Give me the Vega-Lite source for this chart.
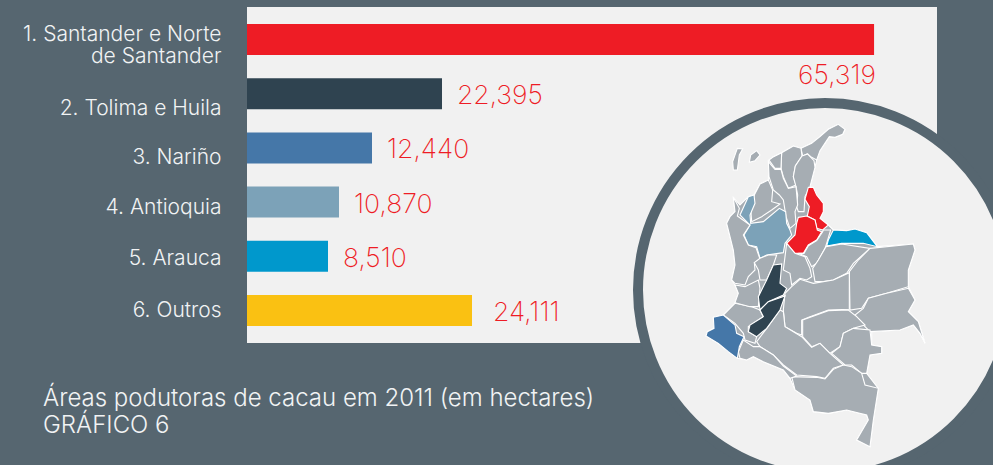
{
"$schema":"https://vega.github.io/schema/vega-lite/v6.json",
"width":690,"height":336,
"autosize":{"type":"none"},
"padding":{"left":247,"top":7,"right":56,"bottom":122},
"background":"#566670",
"view":{"fill":"#f1f1f1","stroke":null},
"title":{"text":["Áreas podutoras de cacau em 2011 (em hectares)","GRÁFICO 6"],"orient":"bottom","anchor":"start","frame":"group","dx":-204,"offset":-110,"font":"Inter","fontSize":24,"fontWeight":300,"color":"#f1f3f4","lineHeight":27},
"datasets":{"bars":[
{"region":"1. Santander e Norte de Santander","bar":65319,"label":"65,319"},
{"region":"2. Tolima e Huila","bar":20313,"label":"22,395"},
{"region":"3. Nariño","bar":13021,"label":"12,440"},
{"region":"4. Antioquia","bar":9583,"label":"10,870"},
{"region":"5. Arauca","bar":8438,"label":"8,510"},
{"region":"6. Outros","bar":23438,"label":"24,111"}]},
"layer":[
{"data":{"name":"bars"},"mark":{"type":"bar","cornerRadius":0},
"encoding":{
"y":{"field":"region","type":"nominal","sort":null,"title":null,"scale":{"range":[17,319],"paddingInner":0.428,"paddingOuter":0},
"axis":{"domain":false,"ticks":false,"labelPadding":26,"labelFont":"Inter","labelFontSize":21,"labelFontWeight":300,"labelColor":"#f1f3f4","labelLimit":240,"labelLineHeight":22,
"labelExpr":"datum.index==0?['1. Santander e Norte','de Santander']:datum.label",
"labelOffset":{"expr":"datum.index==0?-5:datum.index<0.3?15:datum.index<0.5?10:datum.index<0.7?6:datum.index<0.9?3:1"}}},
"x":{"field":"bar","type":"quantitative","axis":null,"scale":{"domain":[0,71875],"nice":false}},
"color":{"field":"region","type":"nominal","legend":null,"scale":{"domain":["1. Santander e Norte de Santander","2. Tolima e Huila","3. Nariño","4. Antioquia","5. Arauca","6. Outros","Demais"],"range":["#ee1c25","#2f4350","#4577a8","#7ca2b8","#0098cc","#fac112","#a6adb3"]}}}},
{"data":{"values":[{"lon":615,"lat":630}]},"mark":{"type":"circle","clip":false,"fill":"#f1f1f1","stroke":"#566670","strokeWidth":10,"size":139876,"opacity":1},
"projection":{"type":"identity","scale":0.33333,"translate":[373,73]},
"encoding":{"longitude":{"field":"lon","type":"quantitative"},"latitude":{"field":"lat","type":"quantitative"}}},
{"data":{"values":[
{"type":"Feature","properties":{"region":"Demais"},"geometry":{"type":"Polygon","coordinates":[[[655,133],[675,148],[668,163],[645,172],[628,170],[618,185],[600,212],[590,240],[585,262],[570,320],[590,345],[610,370],[610,395],[600,415],[625,435],[640,450],[680,452],[705,447],[740,458],[772,500],[880,492],[885,510],[865,570],[865,620],[885,660],[865,695],[895,725],[915,790],[900,760],[880,735],[840,750],[755,755],[755,795],[785,800],[785,820],[750,825],[740,880],[775,925],[760,1020],[750,1100],[710,1080],[745,1020],[740,1005],[680,990],[625,1000],[580,995],[570,960],[525,930],[510,895],[490,870],[430,845],[400,830],[380,840],[352,835],[325,815],[295,790],[258,768],[262,755],[282,745],[280,712],[310,705],[345,670],[355,640],[345,615],[335,600],[345,555],[340,510],[330,470],[320,430],[330,410],[345,395],[340,352],[360,375],[385,350],[402,345],[420,312],[445,300],[447,240],[458,232],[485,218],[520,198],[543,205],[575,190],[600,170],[625,148],[655,133]]]}},
{"type":"Feature","properties":{"region":"Demais"},"geometry":{"type":"Polygon","coordinates":[[[352,205],[368,207],[358,225],[352,270],[340,270],[338,245],[352,205]]]}},
{"type":"Feature","properties":{"region":"Demais"},"geometry":{"type":"Polygon","coordinates":[[[410,212],[420,225],[405,242],[388,247],[392,225],[410,212]]]}},
{"type":"Feature","properties":{"region":"Demais"},"geometry":{"type":"Polygon","coordinates":[[[655,133],[675,148],[668,163],[645,172],[628,170],[618,185],[600,212],[590,240],[575,232],[562,222],[548,228],[543,205],[575,190],[600,170],[625,148],[655,133]]]}},
{"type":"Feature","properties":{"region":"Demais"},"geometry":{"type":"Polygon","coordinates":[[[485,218],[520,198],[543,205],[546,228],[526,258],[520,290],[528,315],[505,325],[490,290],[483,265],[485,218]]]}},
{"type":"Feature","properties":{"region":"Demais"},"geometry":{"type":"Polygon","coordinates":[[[546,228],[563,222],[582,242],[585,262],[570,320],[555,350],[552,395],[535,395],[530,380],[533,345],[528,320],[520,290],[526,258],[546,228]]]}},
{"type":"Feature","properties":{"region":"Demais"},"geometry":{"type":"Polygon","coordinates":[[[458,232],[485,218],[483,265],[465,265],[447,240],[458,232]]]}},
{"type":"Feature","properties":{"region":"Demais"},"geometry":{"type":"Polygon","coordinates":[[[445,245],[465,268],[483,268],[490,295],[505,325],[528,320],[533,375],[525,395],[528,430],[510,445],[498,410],[490,360],[478,345],[460,330],[447,290],[445,245]]]}},
{"type":"Feature","properties":{"region":"Demais"},"geometry":{"type":"Polygon","coordinates":[[[420,312],[445,300],[458,330],[455,365],[480,372],[455,390],[425,410],[395,425],[392,385],[403,345],[420,312]]]}},
{"type":"Feature","properties":{"region":"4. Antioquia"},"geometry":{"type":"Polygon","coordinates":[[[385,350],[402,345],[405,370],[390,405],[392,430],[430,425],[478,385],[497,395],[500,430],[510,450],[515,465],[495,490],[490,518],[440,525],[420,535],[410,500],[385,495],[372,465],[390,435],[360,405],[385,350]]]}},
{"type":"Feature","properties":{"region":"Demais"},"geometry":{"type":"Polygon","coordinates":[[[340,352],[358,385],[352,408],[390,435],[370,465],[385,495],[408,503],[420,537],[403,548],[405,570],[385,590],[375,615],[345,610],[335,600],[345,555],[340,510],[330,470],[320,430],[330,410],[345,395],[340,352]]]}},
{"type":"Feature","properties":{"region":"1. Santander e Norte de Santander"},"geometry":{"type":"Polygon","coordinates":[[[565,322],[580,322],[590,345],[610,370],[610,395],[600,415],[625,435],[608,450],[590,445],[585,420],[562,408],[568,380],[555,358],[565,322]]]}},
{"type":"Feature","properties":{"region":"1. Santander e Norte de Santander"},"geometry":{"type":"Polygon","coordinates":[[[535,412],[560,408],[585,420],[592,450],[605,455],[590,480],[565,495],[550,520],[525,520],[500,490],[525,465],[530,430],[535,412]]]}},
{"type":"Feature","properties":{"region":"5. Arauca"},"geometry":{"type":"Polygon","coordinates":[[[640,450],[680,452],[705,447],[740,458],[772,500],[730,490],[665,490],[620,498],[625,480],[640,450]]]}},
{"type":"Feature","properties":{"region":"Demais"},"geometry":{"type":"Polygon","coordinates":[[[610,450],[632,450],[620,490],[615,505],[590,550],[575,560],[560,530],[535,520],[552,520],[565,497],[590,482],[608,455],[610,450]]]}},
{"type":"Feature","properties":{"region":"Demais"},"geometry":{"type":"Polygon","coordinates":[[[500,490],[525,520],[555,530],[570,565],[575,590],[560,600],[540,595],[515,615],[510,580],[490,570],[495,530],[500,490]]]}},
{"type":"Feature","properties":{"region":"Demais"},"geometry":{"type":"Polygon","coordinates":[[[618,500],[665,492],[750,505],[700,550],[680,580],[640,600],[610,605],[585,605],[578,565],[595,540],[618,500]]]}},
{"type":"Feature","properties":{"region":"Demais"},"geometry":{"type":"Polygon","coordinates":[[[750,505],[880,492],[885,510],[865,570],[865,620],[800,640],[745,655],[725,685],[690,690],[688,575],[715,540],[750,505]]]}},
{"type":"Feature","properties":{"region":"Demais"},"geometry":{"type":"Polygon","coordinates":[[[688,578],[688,688],[625,690],[570,710],[545,720],[545,765],[530,760],[495,740],[490,690],[495,640],[515,620],[540,598],[580,610],[640,600],[688,578]]]}},
{"type":"Feature","properties":{"region":"Demais"},"geometry":{"type":"Polygon","coordinates":[[[865,625],[885,660],[865,695],[895,725],[915,790],[900,760],[880,735],[840,750],[750,755],[730,735],[705,705],[730,685],[745,655],[800,640],[865,625]]]}},
{"type":"Feature","properties":{"region":"Demais"},"geometry":{"type":"Polygon","coordinates":[[[548,720],[625,692],[685,690],[710,710],[735,735],[700,745],[670,760],[660,800],[630,820],[600,790],[575,800],[548,770],[548,720]]]}},
{"type":"Feature","properties":{"region":"Demais"},"geometry":{"type":"Polygon","coordinates":[[[670,760],[700,745],[750,750],[755,795],[785,800],[785,820],[750,825],[740,880],[725,880],[695,855],[675,855],[635,820],[660,800],[670,760]]]}},
{"type":"Feature","properties":{"region":"Demais"},"geometry":{"type":"Polygon","coordinates":[[[490,695],[495,740],[545,770],[575,802],[600,790],[630,820],[670,855],[640,865],[615,895],[590,890],[530,885],[490,855],[460,825],[420,800],[410,785],[440,745],[480,690],[490,695]]]}},
{"type":"Feature","properties":{"region":"Demais"},"geometry":{"type":"Polygon","coordinates":[[[515,890],[590,892],[615,897],[640,868],[670,855],[695,860],[725,880],[735,915],[775,925],[760,1020],[750,1100],[710,1080],[745,1020],[740,1005],[680,990],[625,1000],[580,995],[570,960],[525,930],[515,890]]]}},
{"type":"Feature","properties":{"region":"Demais"},"geometry":{"type":"Polygon","coordinates":[[[355,815],[370,780],[400,800],[420,800],[460,825],[490,858],[530,888],[510,895],[490,870],[430,845],[400,830],[380,840],[360,835],[355,815]]]}},
{"type":"Feature","properties":{"region":"Demais"},"geometry":{"type":"Polygon","coordinates":[[[310,705],[345,670],[395,680],[420,690],[430,710],[385,740],[385,755],[410,770],[405,790],[375,780],[370,760],[345,730],[310,705]]]}},
{"type":"Feature","properties":{"region":"Demais"},"geometry":{"type":"Polygon","coordinates":[[[345,615],[375,620],[415,600],[420,625],[415,680],[390,680],[345,668],[355,640],[345,615]]]}},
{"type":"Feature","properties":{"region":"Demais"},"geometry":{"type":"Polygon","coordinates":[[[403,548],[420,535],[445,525],[470,525],[460,555],[440,600],[420,600],[415,570],[403,548]]]}},
{"type":"Feature","properties":{"region":"2. Tolima e Huila"},"geometry":{"type":"Polygon","coordinates":[[[460,555],[485,552],[480,610],[500,625],[490,645],[445,665],[420,690],[415,650],[440,600],[460,555]]]}},
{"type":"Feature","properties":{"region":"2. Tolima e Huila"},"geometry":{"type":"Polygon","coordinates":[[[420,690],[445,665],[495,648],[480,690],[440,745],[410,770],[385,755],[390,735],[430,710],[420,690]]]}},
{"type":"Feature","properties":{"region":"3. Nariño"},"geometry":{"type":"Polygon","coordinates":[[[280,712],[310,705],[345,735],[350,760],[372,770],[358,800],[352,835],[325,815],[295,790],[258,768],[262,755],[282,745],[280,712]]]}}
]},
"mark":{"type":"geoshape","clip":false,"stroke":"#ffffff","strokeWidth":1.1},
"projection":{"type":"identity","scale":0.33333,"translate":[373,73]},
"encoding":{"color":{"field":"properties.region","type":"nominal","legend":null}}},
{"data":{"name":"bars"},"transform":[{"filter":"datum.label=='65,319'"}],
"mark":{"type":"text","align":"right","baseline":"middle","dx":2,"dy":36,"font":"Inter","fontSize":26.5,"fontWeight":200,"color":"#ee1c25"},
"encoding":{"y":{"field":"region","type":"nominal","sort":null},"x":{"field":"bar","type":"quantitative"},"text":{"field":"label"}}},
{"data":{"name":"bars"},"transform":[{"filter":"datum.label!='65,319' && datum.label!='24,111'"}],
"mark":{"type":"text","align":"left","baseline":"middle","dx":15,"dy":2.5,"font":"Inter","fontSize":26.5,"fontWeight":200,"color":"#ee1c25"},
"encoding":{"y":{"field":"region","type":"nominal","sort":null},"x":{"field":"bar","type":"quantitative"},"text":{"field":"label"}}},
{"data":{"name":"bars"},"transform":[{"filter":"datum.label=='24,111'"}],
"mark":{"type":"text","align":"left","baseline":"middle","dx":21,"dy":2.5,"font":"Inter","fontSize":26.5,"fontWeight":200,"color":"#ee1c25"},
"encoding":{"y":{"field":"region","type":"nominal","sort":null},"x":{"field":"bar","type":"quantitative"},"text":{"field":"label"}}}
]
}
